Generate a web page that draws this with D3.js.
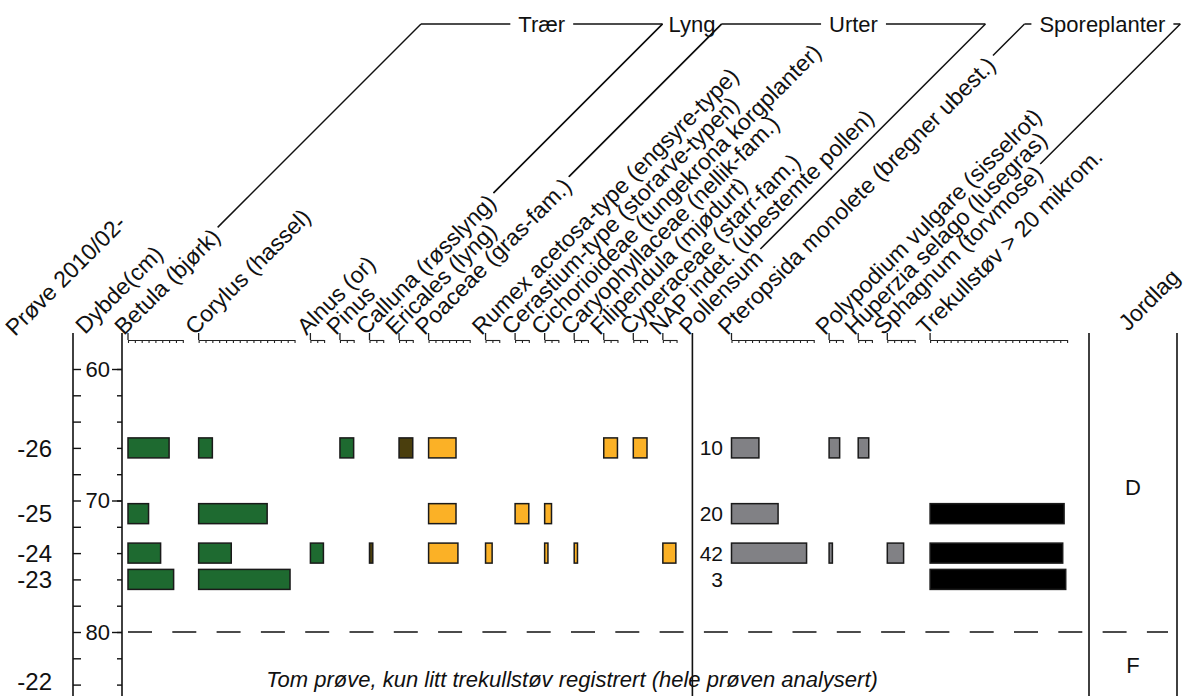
<!DOCTYPE html>
<html>
<head>
<meta charset="utf-8">
<script src="https://cdn.jsdelivr.net/npm/d3@7"></script>
<style>
  body { margin: 0; background: #fff; }
  text { font-family: "Liberation Sans", Arial, sans-serif; fill: #111; }
</style>
</head>
<body>
<div id="chart"></div>
<script>
// pollen diagram for prøve 2010/02, values in percent
var samples = ["-26", "-25", "-24", "-23", "-22"];
var depths = [66, 71, 74, 76, 84];
var pollenSums = [10, 20, 42, 3, null];

var taxa = [
  "Betula (bjørk)", "Corylus (hassel)", "Alnus (or)", "Pinus",
  "Calluna (røsslyng)", "Ericales (lyng)",
  "Poaceae (gras-fam.)", "Rumex acetosa-type (engsyre-type)",
  "Cerastium-type (storarve-typen)", "Cichorioideae (tungekrona korgplanter)",
  "Caryophyllaceae (nellik-fam.)", "Filipendula (mjødurt)",
  "Cyperaceae (starr-fam.)", "NAP indet. (ubestemte pollen)",
  "Pteropsida monolete (bregner ubest.)", "Polypodium vulgare (sisselrot)",
  "Huperzia selago (lusegras)", "Sphagnum (torvmose)", "Trekullstøv > 20 mikrom."
];
var taxonGroup = ["tre", "tre", "tre", "tre", "lyng", "lyng",
  "urt", "urt", "urt", "urt", "urt", "urt", "urt", "urt",
  "spore", "spore", "spore", "spore", "kull"];
var axisMax = [40, 70, 10, 10, 10, 10, 30, 10, 10, 10, 10, 10, 10, 10, 60, 10, 10, 20, 100];

// one row per taxon, one value per sample (-26, -25, -24, -23, -22)
var percents = [
  [30, 15, 23.8, 33.3, 0],
  [10, 50, 23.8, 66.7, 0],
  [0, 0, 9.5, 0, 0],
  [10, 0, 0, 0, 0],
  [0, 0, 2.4, 0, 0],
  [10, 0, 0, 0, 0],
  [20, 20, 21.4, 0, 0],
  [0, 0, 4.8, 0, 0],
  [0, 10, 0, 0, 0],
  [0, 5, 2.4, 0, 0],
  [0, 0, 2.4, 0, 0],
  [10, 0, 0, 0, 0],
  [10, 0, 0, 0, 0],
  [0, 0, 9.5, 0, 0],
  [20, 34, 54.8, 0, 0],
  [7.7, 0, 2.4, 0, 0],
  [7.7, 0, 0, 0, 0],
  [0, 0, 11.9, 0, 0],
  [0, 97.8, 96.8, 99, 0]
];

var groupNames = ["Trær", "Lyng", "Urter", "Sporeplanter"];
var groupFirst = [0, 4, 6, 14];
var groupLast = [3, 5, 13, 16];

var soilLayers = ["D", "F"];
var soilTop = [58, 80];
var soilBottom = [80, 85];

var depthTicks = d3.range(60, 86, 2);
var depthLabels = [60, 70, 80];
var emptyNote = "Tom prøve, kun litt trekullstøv registrert (hele prøven analysert)";

var colors = {tre: "#1e6a30", lyng: "#4a3e0d", urt: "#fbb126", spore: "#818185", kull: "#000000"};

var width = 1190, height = 696;
var svg = d3.select("#chart").append("svg")
    .attr("width", width)
    .attr("height", height);

var y = d3.scaleLinear().domain([60, 80]).range([369, 632]);
var axisTop = 333, axisBottomY = 696, headY = 340;
var labelSize = "23px";

// lay the columns out left to right, pollensum sits between herbs and spores
var pxPerPct = 1.37;
var columns = [];
var colOf = [];
var cursor = 128;
taxa.forEach(function(name, i) {
  if (i == 14) {
    columns.push({label: "Pollensum", type: "sum", x0: cursor});
    cursor += 39.1;
  }
  var w = axisMax[i] * pxPerPct;
  colOf[i] = columns.length;
  columns.push({label: name, type: "taxon", index: i, x0: cursor,
    x: d3.scaleLinear().domain([0, axisMax[i]]).range([cursor, cursor + w])});
  cursor += w + (i < 14 ? 15.85 : 15.4);
});
var sumCol = columns.filter(function(c) { return c.type == "sum"; })[0];
var jordLeft = 1089, jordRight = 1177;

// vertical frame lines
[73, 122, sumCol.x0, jordLeft, jordRight].forEach(function(x) {
  svg.append("line")
    .attr("x1", x).attr("x2", x)
    .attr("y1", axisTop).attr("y2", axisBottomY)
    .attr("stroke", "#111").attr("stroke-width", 1.6);
});

// sample axis ticks
svg.append("g")
    .attr("transform", "translate(73,0)")
    .call(d3.axisRight(y).tickValues(depthTicks).tickSize(8).tickFormat(""))
    .call(function(g) { g.select(".domain").remove(); });

// depth axis, minor and major ticks
svg.append("g")
    .attr("transform", "translate(122,0)")
    .call(d3.axisLeft(y).tickValues(depthTicks).tickSize(5).tickFormat(""))
    .call(function(g) { g.select(".domain").remove(); });
svg.append("g")
    .attr("transform", "translate(122,0)")
    .call(d3.axisLeft(y).tickValues(depthLabels).tickSize(10).tickPadding(2).tickFormat(d3.format("d")))
    .call(function(g) {
      g.select(".domain").remove();
      g.selectAll("text").style("font-size", "22px").attr("fill", "#111");
    });
svg.selectAll(".tick line").attr("stroke", "#111").attr("stroke-width", 1.4);

// sample labels (the last one is kept inside the bottom edge)
svg.selectAll(".sample")
  .data(samples)
  .enter()
  .append("text")
    .attr("class", "sample")
    .attr("x", 52)
    .attr("y", function(d, i) { return Math.min(y(depths[i]) + 8.6, height - 6); })
    .attr("text-anchor", "end")
    .style("font-size", "24px")
    .text(function(d) { return d; });

// dashed boundary between the layers
svg.append("line")
    .attr("x1", 128).attr("x2", 1168)
    .attr("y1", y(80)).attr("y2", y(80))
    .attr("stroke", "#111").attr("stroke-width", 1.5)
    .attr("stroke-dasharray", "24 20.3");

// header axes for each taxon
columns.forEach(function(c) {
  if (c.type != "taxon") return;
  var g = svg.append("g").attr("transform", "translate(0," + headY + ")");
  g.call(d3.axisBottom(c.x)
      .tickValues(d3.range(0, axisMax[c.index] + 0.01, 5))
      .tickSize(3).tickSizeOuter(0).tickFormat(""));
  g.selectAll("path, line").attr("stroke", "#222").attr("stroke-width", 1.1);
  g.append("line")
    .attr("x1", c.x0).attr("x2", c.x0)
    .attr("y1", axisTop - headY).attr("y2", 0)
    .attr("stroke", "#222").attr("stroke-width", 1.3);
});

// bars
columns.forEach(function(c) {
  if (c.type != "taxon") return;
  var rows = percents[c.index]
    .map(function(v, j) { return {v: v, depth: depths[j]}; })
    .filter(function(d) { return d.v > 0; });
  svg.selectAll(".bar" + c.index)
    .data(rows)
    .enter()
    .append("rect")
      .attr("class", "bar" + c.index)
      .attr("x", c.x(0))
      .attr("y", function(d) { return y(d.depth) - 10; })
      .attr("width", function(d) { return c.x(d.v) - c.x(0); })
      .attr("height", 20)
      .attr("fill", colors[taxonGroup[c.index]])
      .attr("stroke", "#1a1a1a")
      .attr("stroke-width", 1.5);
});

// pollen sums
svg.selectAll(".psum")
  .data(pollenSums.map(function(s, i) { return {s: s, depth: depths[i]}; })
    .filter(function(d) { return d.s != null; }))
  .enter()
  .append("text")
    .attr("class", "psum")
    .attr("x", sumCol.x0 + 30.6)
    .attr("y", function(d) { return y(d.depth); })
    .attr("dy", "0.36em")
    .attr("text-anchor", "end")
    .style("font-size", "21px")
    .text(function(d) { return d.s; });

// rotated column labels
function rotLabel(x, yy, txt) {
  var t = svg.append("text")
    .attr("transform", "translate(" + x + "," + yy + ") rotate(-45)")
    .style("font-size", labelSize)
    .text(txt);
  return t.node().getComputedTextLength();
}
columns.forEach(function(c) {
  c.textLen = rotLabel(c.x0 - 4, 336, c.label);
});
rotLabel(15, 337, "Prøve 2010/02-");
rotLabel(85, 335, "Dybde(cm)");
rotLabel(1128, 332, "Jordlag");

// group brackets: diagonal separators running on from the label ends up to the group title
var r2 = Math.SQRT1_2;
function boundary(ci) {
  var c = columns[ci];
  var ox = c.x0 - 4, oy = 336;
  var t = c.textLen + 5;
  return {
    bx: ox + t * r2 - 7.5,
    by: oy - t * r2 - 7.5,
    tx: ox + oy - 15 - 24,
    ty: 24
  };
}
groupNames.forEach(function(name, gi) {
  var left = boundary(colOf[groupFirst[gi]]);
  var right = boundary(colOf[groupLast[gi]] + 1);
  [left, right].forEach(function(b) {
    svg.append("line")
      .attr("x1", b.bx).attr("y1", b.by)
      .attr("x2", b.tx).attr("y2", b.ty)
      .attr("stroke", "#111").attr("stroke-width", 1.5);
  });
  var cx = (left.tx + right.tx) / 2;
  var label = svg.append("text")
    .attr("x", cx).attr("y", 24)
    .attr("dy", "0.36em")
    .attr("text-anchor", "middle")
    .style("font-size", "22px")
    .text(name);
  var half = label.node().getComputedTextLength() / 2;
  [[left.tx, cx - half - 8], [cx + half + 8, right.tx]].forEach(function(seg) {
    if (seg[1] - seg[0] > 2) {
      svg.append("line")
        .attr("x1", seg[0]).attr("x2", seg[1])
        .attr("y1", 24).attr("y2", 24)
        .attr("stroke", "#111").attr("stroke-width", 1.5);
    }
  });
});

// soil layers
svg.selectAll(".soil")
  .data(soilLayers)
  .enter()
  .append("text")
    .attr("class", "soil")
    .attr("x", (jordLeft + jordRight) / 2)
    .attr("y", function(d, i) { return (y(soilTop[i]) + y(soilBottom[i])) / 2; })
    .attr("dy", "0.36em")
    .attr("text-anchor", "middle")
    .style("font-size", "22px")
    .text(function(d) { return d; });

// note for the empty sample
svg.append("text")
    .attr("x", 572)
    .attr("y", 687)
    .attr("text-anchor", "middle")
    .style("font-size", "22px")
    .style("font-style", "italic")
    .text(emptyNote);
</script>
</body>
</html>
